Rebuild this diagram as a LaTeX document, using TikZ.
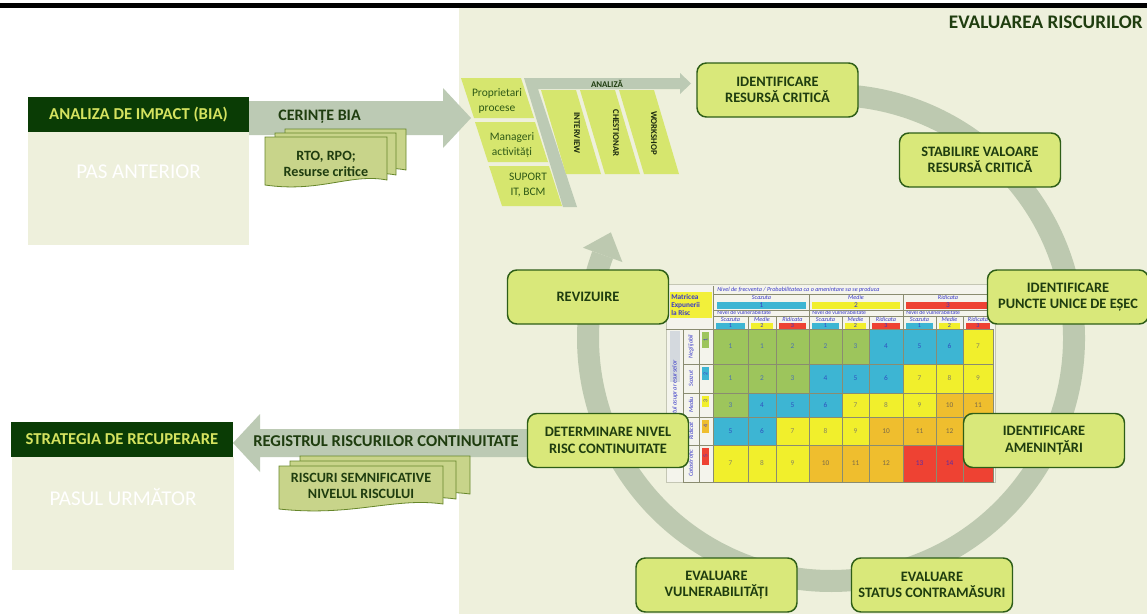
\documentclass[tikz,border=0pt]{standalone}
\usepackage{fontspec}
\setmainfont{Carlito}
\usetikzlibrary{calc}
\definecolor{bgpanel}{HTML}{EEF0DC}
\definecolor{hdr}{HTML}{0A3C05}
\definecolor{hdrtxt}{HTML}{D4E25F}
\definecolor{dkgreen}{HTML}{1F3D0F}
\definecolor{boxfill}{HTML}{D9E87A}
\definecolor{boxline}{HTML}{2E5E17}
\definecolor{arrowgray}{HTML}{BCCAB4}
\definecolor{ringgray}{HTML}{BDC9B0}
\definecolor{docfill}{HTML}{C8D48A}
\definecolor{docline}{HTML}{66862A}
\definecolor{para}{HTML}{D6E66E}
\definecolor{paratxt}{HTML}{2F5A16}
\definecolor{bartxt}{HTML}{1B2A10}
\definecolor{cG}{HTML}{9DC55C}
\definecolor{cC}{HTML}{3DB5D3}
\definecolor{cY}{HTML}{F1EF2C}
\definecolor{cO}{HTML}{EFBE2E}
\definecolor{cR}{HTML}{EE4233}
\definecolor{tG}{HTML}{4A70B0}
\definecolor{tC}{HTML}{2F4FC0}
\definecolor{tY}{HTML}{858560}
\definecolor{tO}{HTML}{7A6A48}
\definecolor{tR}{HTML}{5A2CA8}
\definecolor{mblue}{HTML}{3A3AC8}
\definecolor{mgrid}{HTML}{8A8C70}
\definecolor{mframe}{HTML}{C4C6B4}
\definecolor{mbg}{HTML}{F4F4EC}
\definecolor{mlabel}{HTML}{F2F03A}
\definecolor{mhl}{HTML}{D4D9DE}
\tikzset{
 ringbox/.style={draw=boxline, line width=1.1pt, fill=boxfill, rounded corners=7pt, align=center, text=dkgreen, font=\bfseries\fontsize{10.8}{12.2}\selectfont, minimum width=120.75pt, minimum height=40.5pt, inner sep=0pt},
 hdrbox/.style={fill=hdr, text=hdrtxt, font=\bfseries\fontsize{12.5}{14}\selectfont, inner sep=0pt},
 ghost/.style={text=white, font=\fontsize{15.8}{18}\selectfont, inner sep=0pt},
 arrowlabel/.style={text=dkgreen, font=\bfseries\fontsize{12}{14}\selectfont, inner sep=0pt},
 doctext/.style={text=dkgreen, font=\bfseries\fontsize{10.6}{11.8}\selectfont, align=center, inner sep=0pt},
 docst/.style={fill=docfill, draw=docline, line width=0.6pt},
 paratext/.style={text=paratxt, font=\fontsize{8.6}{11.2}\selectfont, align=center, inner sep=0pt},
 bartext/.style={text=bartxt, font=\bfseries\fontsize{6.6}{7}\selectfont, rotate=-90, inner sep=0pt},
 mtiny/.style={text=mblue, font=\itshape\fontsize{4.6}{5}\selectfont, inner sep=0pt},
 mnum/.style={font=\fontsize{5.5}{6}\selectfont, inner sep=0pt},
 mline/.style={draw=mgrid, line width=0.35pt},
}
\newcommand\docshape[4]{%
 \filldraw[docst] (#1,#2) -- (#3,#2) -- (#3,#4) .. controls ({#3-0.3*(#3-#1)},{#4-7}) and ({#1+0.45*(#3-#1)},{#4+13}) .. (#1,{#4+5}) -- cycle;}
\newcommand\mrow[3]{%
  \foreach \v/\k [count=\i] in {#3}{%
    \pgfmathsetmacro\mxl{{713,748,776,809,842,869,903,936,963}[\i-1]}%
    \pgfmathsetmacro\mxr{{748,776,809,842,869,903,936,963,993}[\i-1]}%
    \filldraw[fill=c\k, draw=mgrid, line width=0.35pt] (\mxl,#1) rectangle (\mxr,#2);
    \node[mnum, text=t\k] (cell-#1-\i) at ({(\mxl+\mxr)/2},{(#1+#2)/2}) {\v};
  }%
}
\begin{document}
\begin{tikzpicture}[x=0.75pt,y=-0.75pt]
\useasboundingbox (0,0) rectangle (1147,614);
\fill[white] (0,0) rectangle (1147,614);
\fill[black] (0,3) rectangle (1147,8);
\fill[bgpanel] (459,8) rectangle (1147,614);
\node[anchor=east, text=dkgreen, font=\bfseries\fontsize{14.4}{16}\selectfont, inner sep=0pt] (title) at (1143,22) {EVALUAREA RISCURILOR};

% left top block
\fill[bgpanel] (28,132) rectangle (249,245);
\node[hdrbox, minimum width=165.75pt, minimum height=26.25pt] (bia) at (138.5,114.5) {ANALIZA DE IMPACT (BIA)};
\node[ghost] (pasant) at (138.5,172) {PAS ANTERIOR};

% left bottom block
\fill[bgpanel] (12,457) rectangle (234,570);
\node[hdrbox, minimum width=166.5pt, minimum height=26.25pt] (strat) at (122,439.5) {STRATEGIA DE RECUPERARE};
\node[ghost] (pasurm) at (123,497) {PASUL URMĂTOR};

% arrows
\fill[arrowgray] (249,101) -- (443,101) -- (443,88) -- (471,118) -- (443,148) -- (443,135) -- (249,135) -- cycle;
\node[arrowlabel] (cer) at (319.5,117) {CERINȚE BIA};
\docshape{285}{129}{406}{170}
\docshape{275}{133}{396}{175}
\docshape{265}{137}{387}{180}
\node[doctext] (rto) at (326,164) {RTO, RPO;\\Resurse critice};

\fill[arrowgray] (540,429) -- (260,429) -- (260,414) -- (233,443) -- (260,472) -- (260,457) -- (540,457) -- cycle;
\node[arrowlabel, font=\bfseries\fontsize{12.4}{14}\selectfont] (reg) at (386,441) {REGISTRUL RISCURILOR CONTINUITATE};
\docshape{300}{456}{470}{494}
\docshape{290}{461}{456}{499}
\docshape{279}{466}{443}{504}
\node[doctext] (risc) at (361,486) {RISCURI SEMNIFICATIVE\\NIVELUL RISCULUI};

% ring
\coordinate (C) at (831,338);
\draw[ringgray, line width=16.5pt] ($(C)+(-95:243)$) arc[start angle=-95, end angle=200, radius=243];
\fill[ringgray] ($(C)+(200:264)$) -- ($(C)+(200:243)+(290:24)$) -- ($(C)+(200:222)$) -- cycle;

% matrix
\filldraw[fill=mbg, draw=mframe, line width=0.6pt] (666,284) rectangle (995,482);
\fill[mlabel] (670,292) rectangle (712,318);
\node[anchor=north west, align=left, text=mblue, font=\bfseries\fontsize{5.5}{6.2}\selectfont, inner sep=0pt] (mlab) at (671,294) {Matricea\\Expunerii\\la Risc};
\node[mtiny, anchor=west] (mtitle) at (717,290) {Nivel de frecventa / Probabilitatea ca o amenintare sa se produca};
\foreach \xa/\xb/\nm/\k/\n [count=\g] in {717/806/Scazuta/C/1, 812/900/Medie/Y/2, 906/990/Ridicata/R/3}{
  \node[mtiny] (grp\g) at ({(\xa+\xb)/2},297.5) {\nm};
  \fill[c\k] (\xa,302) rectangle (\xb,309);
  \node[mnum, text=mblue] (grpn\g) at ({(\xa+\xb)/2},305.5) {\n};
  \node[mtiny, anchor=west, font=\fontsize{4.3}{5}\selectfont] (vul\g) at (\xa,312.8) {Nivel de vulnerabilitate};
}
\draw[mline] (713,286) -- (713,482);
\draw[mline] (713,294) -- (993,294);
\draw[mline] (713,310) -- (993,310);
\draw[mline] (713,316) -- (993,316);
\draw[mline] (809,294) -- (809,329);
\draw[mline] (903,294) -- (903,329);
\foreach \x in {748,776,842,869,936,963} \draw[mline] (\x,316) -- (\x,329);
\foreach \xa/\xb/\nm/\k/\n [count=\j] in {713/748/Scazuta/C/1, 748/776/Medie/Y/2, 776/809/Ridicata/R/3, 809/842/Scazuta/C/1, 842/869/Medie/Y/2, 869/903/Ridicata/R/3, 903/936/Scazuta/C/1, 936/963/Medie/Y/2, 963/993/Ridicata/R/3}{
  \node[mtiny] (sub\j) at ({(\xa+\xb)/2},319.5) {\nm};
  \fill[c\k] ({\xa+3},323) rectangle ({\xb-3},329);
  \node[mnum, text=mblue, font=\fontsize{4.6}{5}\selectfont] (subn\j) at ({(\xa+\xb)/2},326) {\n};
}
\draw[mline] (666,329) -- (993,329);
\fill[mhl] (670,331) rectangle (680,382);
\node[mtiny, rotate=90, font=\itshape\fontsize{4.8}{5}\selectfont] (impact) at (675,395) {Impactul asupra resurselor};
\draw[mline] (683,329) -- (683,482);
\draw[mline] (699,329) -- (699,482);
\foreach \yt/\yb/\nm/\k/\n in {329/364/Neglijabil/G/1, 364/393/Scazut/C/2, 393/417/Mediu/Y/3, 417/445/Ridicat/O/4, 445/482/Catastrofic/R/5}{
  \draw[mline] (683,\yb) -- (713,\yb);
  \node[mtiny, rotate=90] (lvl\n) at (691,{(\yt+\yb)/2}) {\nm};
  \fill[c\k] (702,{\yt+3}) rectangle (709,{\yt+3+0.45*(\yb-\yt)});
  \node[mnum, rotate=90, text=mblue, font=\fontsize{4.4}{5}\selectfont] (lvn\n) at (705.5,{\yt+3+0.225*(\yb-\yt)}) {\n};
}
\mrow{329}{364}{1/G,1/G,2/G,2/G,3/G,4/C,5/C,6/C,7/Y}
\mrow{364}{393}{1/G,2/G,3/G,4/C,5/C,6/C,7/Y,8/Y,9/Y}
\mrow{393}{417}{3/G,4/C,5/C,6/C,7/Y,8/Y,9/Y,10/O,11/O}
\mrow{417}{445}{5/C,6/C,7/Y,8/Y,9/Y,10/O,11/O,12/O,{}/O}
\mrow{445}{482}{7/Y,8/Y,9/Y,10/O,11/O,12/O,13/R,14/R,{}/R}

% analysis structure
\fill[para] (461,78) -- (521,78) -- (534,118) -- (474,118) -- cycle;
\fill[para] (475,122) -- (535,122) -- (548,162) -- (488,162) -- cycle;
\fill[para] (489,166) -- (549,166) -- (562,206) -- (502,206) -- cycle;
\node[paratext] (prop) at (497,101) {Proprietari\\procese};
\node[paratext] (mgr) at (512,145) {Manageri\\activități};
\node[paratext] (sup) at (528,185) {SUPORT\\IT, BCM};
\fill[arrowgray] (524,78) -- (680,78) -- (680,73) -- (691,83.5) -- (680,94) -- (680,89) -- (538,89) -- (577,207) -- (563,207) -- cycle;
\node[text=dkgreen, font=\bfseries\fontsize{6.6}{7}\selectfont, inner sep=0pt] (anl) at (607,83.5) {ANALIZĂ};
\fill[para] (541,90) -- (576,90) -- (601,174) -- (566,174) -- cycle;
\fill[para] (580,90) -- (615,90) -- (640,174) -- (605,174) -- cycle;
\fill[para] (619,90) -- (654,90) -- (679,174) -- (644,174) -- cycle;
\node[bartext] (intv) at (577,133) {INTERVIEW};
\node[bartext] (chest) at (616,133) {CHESTIONAR};
\node[bartext] (work) at (654,133) {WORKSHOP};

% ring boxes
\node[ringbox] (ident) at (777.5,90) {IDENTIFICARE\\RESURSĂ CRITICĂ};
\node[ringbox] (stab) at (980,160) {STABILIRE VALOARE\\RESURSĂ CRITICĂ};
\node[ringbox] (puncte) at (1068,297) {IDENTIFICARE\\PUNCTE UNICE DE EȘEC};
\node[ringbox] (amen) at (1044,440.5) {IDENTIFICARE\\AMENINȚĂRI};
\node[ringbox] (status) at (932,585) {EVALUARE\\STATUS CONTRAMĂSURI};
\node[ringbox] (vuln) at (716.5,585) {EVALUARE\\VULNERABILITĂȚI};
\node[ringbox] (determ) at (608,440.5) {DETERMINARE NIVEL\\RISC CONTINUITATE};
\node[ringbox] (reviz) at (588,297) {REVIZUIRE};
\end{tikzpicture}
\end{document}
